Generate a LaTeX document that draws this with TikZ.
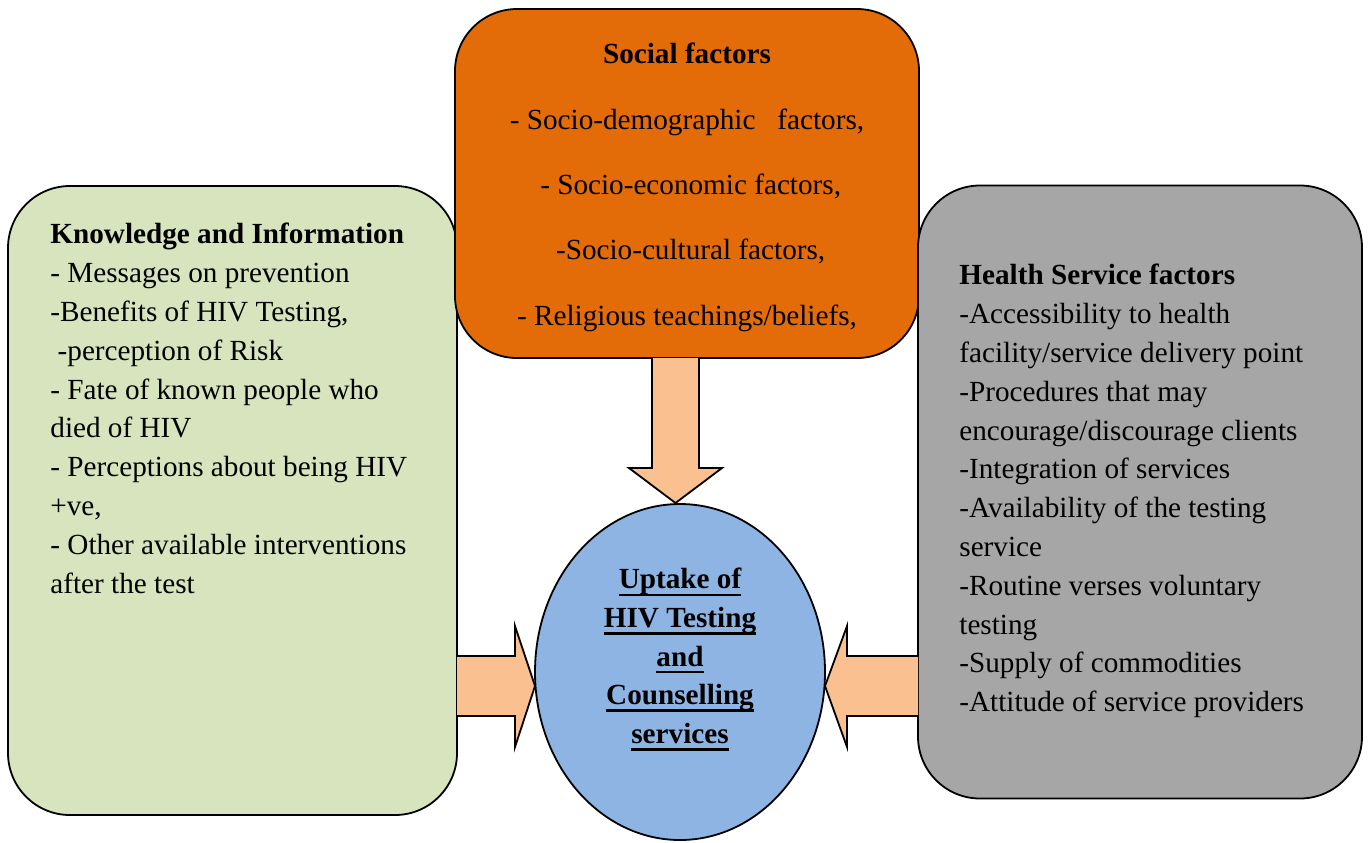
\documentclass[tikz,border=0pt]{standalone}
\usepackage{fontspec}
\setmainfont{Liberation Serif}
\usetikzlibrary{shapes.geometric}
\definecolor{kgreen}{HTML}{D7E4BD}
\definecolor{sorange}{HTML}{E36C09}
\definecolor{hgrey}{HTML}{A6A6A6}
\definecolor{ublue}{HTML}{8EB4E3}
\definecolor{afill}{HTML}{FAC090}
\newlength\wulw
\newcommand\wul[1]{\settowidth\wulw{#1}\rlap{\rule[-3.6pt]{\wulw}{1.3pt}}#1}
\begin{document}
\begin{tikzpicture}[x=0.5pt,y=-0.5pt,
  box/.style={draw=black, line width=0.9pt, rounded corners=31pt, inner sep=0pt},
  bodytext/.style={font=\fontsize{14.6pt}{19.4pt}\selectfont, inner sep=0pt},
  blockarrow/.style={draw=black, line width=0.9pt, fill=afill, line join=miter}]
\useasboundingbox (0,0) rectangle (1370,842);
% boxes
\node[box, fill=kgreen, minimum width=224.5pt, minimum height=314.5pt] (know) at (232.5,500.5) {};
\node[box, fill=sorange, minimum width=232pt, minimum height=174.5pt] (social) at (687,183.5) {};
\node[box, fill=hgrey, minimum width=222pt, minimum height=306.5pt] (health) at (1140,492) {};
\node[ellipse, draw=black, line width=0.9pt, fill=ublue, minimum width=145pt, minimum height=168pt, inner sep=0pt] (uptake) at (680,672) {};
% texts
\node[bodytext, align=left, anchor=north west] (knowtext) at (50,223) {%
\textbf{Knowledge and Information}\\
- Messages on prevention\\
-Benefits of HIV Testing,\\
\ -perception of Risk\\
- Fate of known people who\\
died of HIV\\
- Perceptions about being HIV\\
+ve,\\
- Other available interventions\\
after the test};
\node[font=\fontsize{14.6pt}{32.65pt}\selectfont, inner sep=0pt, align=center, anchor=north] (socialtext) at (687,43) {%
\textbf{Social factors}\\
- Socio-demographic\ \ \ factors,\\
\ - Socio-economic factors,\\
\ -Socio-cultural factors,\\
- Religious teachings/beliefs,};
\node[bodytext, align=left, anchor=north west] (healthtext) at (959,264) {%
\textbf{Health Service factors}\\
-Accessibility to health\\
facility/service delivery point\\
-Procedures that may\\
encourage/discourage clients\\
-Integration of services\\
-Availability of the testing\\
service\\
-Routine verses voluntary\\
testing\\
-Supply of commodities\\
-Attitude of service providers};
\node[bodytext, align=center, anchor=north, font=\fontsize{14.6pt}{19.3pt}\selectfont\bfseries] (uptaketext) at (680,568) {%
\wul{Uptake of}\\
\wul{HIV Testing}\\
\wul{and}\\
\wul{Counselling}\\
\wul{services}};
% block arrows
\filldraw[blockarrow] (652,358) -- (652,468) -- (629,468) -- (675.5,503) -- (722,468) -- (699,468) -- (699,358);
\filldraw[blockarrow] (457,656) -- (515,656) -- (515,626) -- (535,686) -- (515,747) -- (515,716) -- (457,716);
\filldraw[blockarrow] (918,656) -- (847,656) -- (847,626) -- (825,686) -- (847,747) -- (847,716) -- (918,716);
\end{tikzpicture}
\end{document}
